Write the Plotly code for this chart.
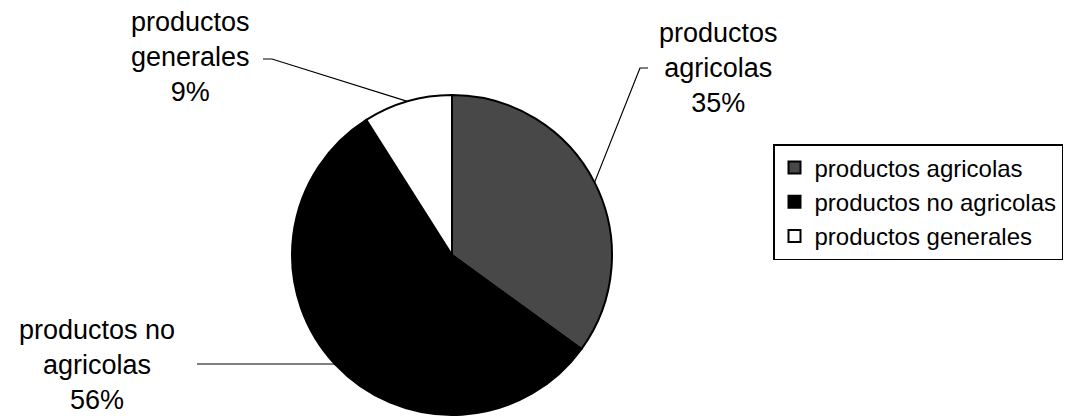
import math
import plotly.graph_objects as go

labels = ["productos agricolas", "productos no agricolas", "productos generales"]
values = [35, 56, 9]
colors = ["#484848", "#000000", "#ffffff"]
label_text = ["productos<br>agricolas<br>35%", "productos no<br>agricolas<br>56%", "productos<br>generales<br>9%"]

W, H = 1067, 418
CX, CY, R = 452, 255, 160  # pie centre / radius in pixels

FONT = "Liberation Sans, Arial, sans-serif"

fig = go.Figure()
fig.add_trace(go.Pie(
    labels=labels,
    values=values,
    sort=False,
    direction="clockwise",
    rotation=0,
    textinfo="none",
    hoverinfo="skip",
    marker=dict(colors=colors, line=dict(color="black", width=2)),
    domain=dict(x=[(CX - R) / W, (CX + R) / W], y=[(H - CY - R) / H, (H - CY + R) / H]),
))

def px(x, y):
    return x / W, 1 - y / H

def edge_point(idx):
    total = sum(values)
    start = sum(values[:idx]) / total
    mid = (start + values[idx] / total / 2) * 2 * math.pi
    return CX + R * math.sin(mid), CY - R * math.cos(mid)

# label anchor positions (pixels) and elbow points of leader lines
label_pos = [(718, 68), (97, 365), (190, 57)]
elbows = [[(648, 68), (640, 68)], [(197, 364)], [(263, 59), (272, 59)]]

annotations = []
shapes = []
for i in range(3):
    x, y = px(*label_pos[i])
    annotations.append(dict(
        text=label_text[i], x=x, y=y, xref="paper", yref="paper",
        xanchor="center", yanchor="middle", showarrow=False, align="center",
        font=dict(family=FONT, size=27, color="black"),
    ))
    if i == 1:
        pts = [elbows[i][0], (edge_point(i)[0], elbows[i][0][1])]
    else:
        pts = elbows[i] + [edge_point(i)]
    path = "M " + " L ".join(f"{px(a, b)[0]} {px(a, b)[1]}" for a, b in pts)
    shapes.append(dict(type="path", path=path, xref="paper", yref="paper",
                       line=dict(color="black", width=1.2)))

fig.update_layout(
    width=W, height=H,
    margin=dict(l=0, r=0, t=0, b=0),
    paper_bgcolor="white", plot_bgcolor="white",
    showlegend=True,
    legend=dict(
        x=773 / W, y=1 - 144 / H, xanchor="left", yanchor="top",
        bordercolor="black", borderwidth=1.5, bgcolor="white",
        font=dict(family=FONT, size=24, color="black"),
        itemsizing="constant", itemwidth=30,
    ),
    annotations=annotations,
    shapes=shapes,
)

fig.write_html("out.html")
